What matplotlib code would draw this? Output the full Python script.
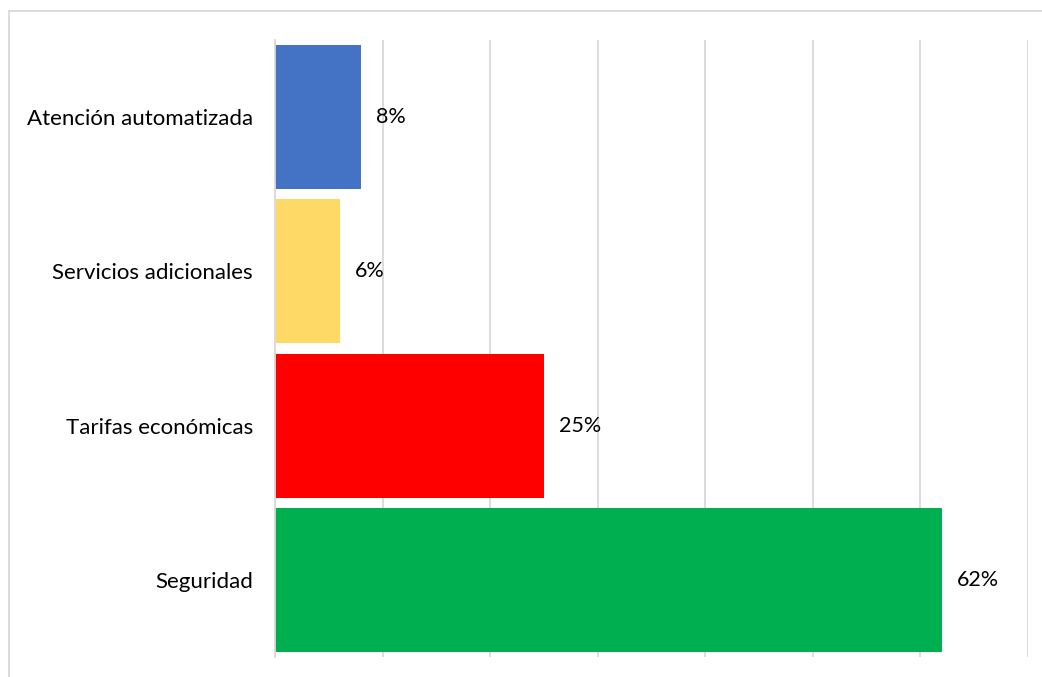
import matplotlib
matplotlib.use("Agg")
import matplotlib.pyplot as plt
from matplotlib.lines import Line2D

categories = ["Atención automatizada", "Servicios adicionales", "Tarifas económicas", "Seguridad"]
values = [8, 6, 25, 62]
colors = ["#4472C4", "#FFD966", "#FF0000", "#00B050"]

plt.rcParams["font.family"] = ["Lato", "DejaVu Sans"]

fig = plt.figure(figsize=(10.42, 6.77), dpi=100)
ax = fig.add_axes([275 / 1042, 20 / 677, (1028 - 275) / 1042, (657 - 40) / 677])

pos = list(range(len(categories)))[::-1]
ax.barh(pos, values, height=0.935, color=colors, zorder=2)

for p, v in zip(pos, values):
    ax.annotate(f"{v}%", xy=(v, p), xytext=(11, 0), textcoords="offset points",
                ha="left", va="center", fontsize=15.5, color="#000000")

ax.set_xlim(0, 70)
ax.set_ylim(-0.5, len(categories) - 0.5)
ax.set_xticks(range(0, 71, 10))
ax.set_xticklabels([])
ax.set_yticks(pos)
ax.set_yticklabels(categories, fontsize=16)
ax.tick_params(axis="y", length=0, pad=16)
ax.tick_params(axis="x", length=0)
ax.grid(axis="x", color="#D9D9D9", linewidth=1.3, zorder=0)
for s in ["top", "right", "bottom"]:
    ax.spines[s].set_visible(False)
ax.spines["left"].set_color("#D9D9D9")
ax.spines["left"].set_linewidth(1.3)

# chart-area frame (left and top edges)
fig.add_artist(Line2D([8.5 / 1042, 8.5 / 1042], [0, 1 - 11 / 677], transform=fig.transFigure,
                      color="#D9D9D9", linewidth=1.3))
fig.add_artist(Line2D([8.5 / 1042, 1], [1 - 11 / 677, 1 - 11 / 677], transform=fig.transFigure,
                      color="#D9D9D9", linewidth=1.3))

fig.savefig("out.png", dpi=100, facecolor="white")
